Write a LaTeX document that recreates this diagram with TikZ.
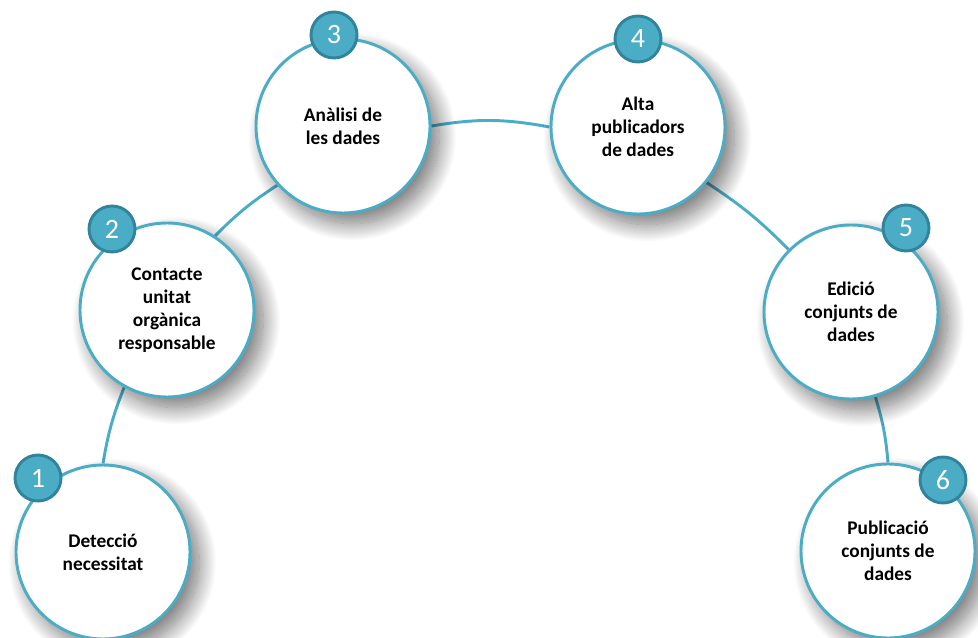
\documentclass[tikz,border=0pt]{standalone}
\usepackage{fontspec}
\setmainfont{Carlito}
\usetikzlibrary{shadows.blur,backgrounds}
\definecolor{aqua}{HTML}{4BACC6}
\definecolor{aquadark}{HTML}{31849B}

\begin{document}
\begin{tikzpicture}[x=0.75pt,y=-0.75pt,thick,
    main node/.style={circle,draw=aqua,line width=2.2pt,fill=white,minimum size=130.5pt,inner sep=0pt,align=center,font=\bfseries\fontsize{14.5}{17.2}\selectfont,blur shadow={shadow xshift=7pt,shadow yshift=-8pt,shadow blur radius=13pt,shadow blur steps=24,shadow opacity=55}},
    num node/.style={circle,draw=aquadark,line width=2.2pt,fill=aqua,minimum size=34.5pt,inner sep=0pt,text=white,font=\fontsize{21}{21}\selectfont},
    link/.style={draw=aqua,line width=2.2pt}]

                \useasboundingbox (0,0) rectangle (978,638);

                \foreach \n/\x/\y/\txt in {
                    1/103/552/{Detecció\\necessitat},
                    2/167/310/{Contacte\\unitat\\orgànica\\responsable},
                    3/343/126/{Anàlisi de\\les dades},
                    4/638/127/{Alta\\publicadors\\de dades},
                    5/851/312/{Edició\\conjunts de\\dades},
                    6/888/551/{Publicació\\conjunts de\\dades}}{
                    \node[main node] (\n) at (\x,\y) {\txt};
                }

                \foreach \n/\x/\y in {1/38/478,2/112/229,3/334/35,4/638/39,5/906/228,6/943/480}{
                    \node[num node] (n\n) at (\x,\y) {\n};
                }

                \begin{scope}[on background layer]
                \path[link]
                    (1.north) edge[bend left=6] (2.241)
                    (2.57) edge[bend left=6] (3.222)
                    (3.east) edge[bend left=10] (4.west)
                    (4.321) edge[bend left=6] (5.135)
                    (5.286) edge[bend left=6] (6.north)
                ;
                \end{scope}

            \end{tikzpicture}
\end{document}
